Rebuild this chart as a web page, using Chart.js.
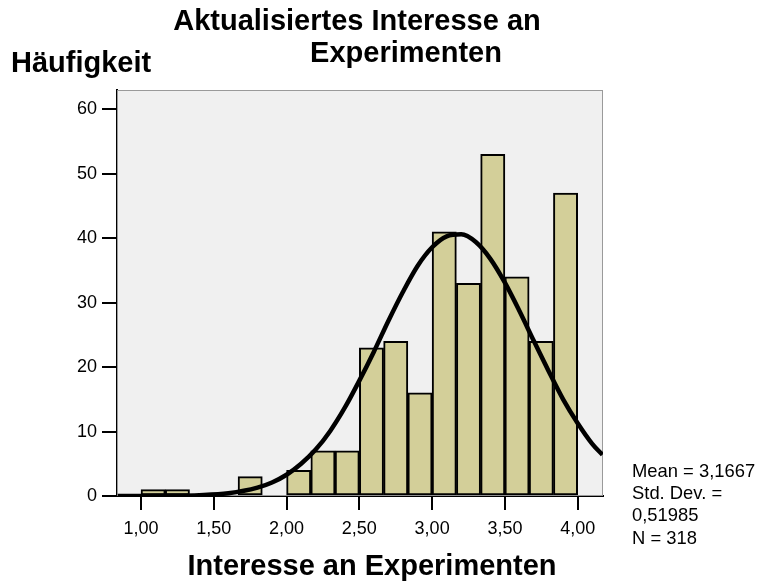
<!DOCTYPE html>
<html>
<head>
<meta charset="utf-8">
<script src="https://cdn.jsdelivr.net/npm/chart.js@4"></script>
<style>
  body { margin: 0; background: #fff; }
  #wrap { width: 758px; height: 584px; }
</style>
</head>
<body>
<div id="wrap"><canvas id="myChart"></canvas></div>
<script>
// histogram bins (centres of the 1/6 wide classes) and frequencies
var binCenters = [1.0833, 1.25, 1.4167, 1.5833, 1.75, 1.9167, 2.0833, 2.25, 2.4167,
                  2.5833, 2.75, 2.9167, 3.0833, 3.25, 3.4167, 3.5833, 3.75, 3.9167];
var counts = [1, 1, 0, 0, 3, 0, 4, 7, 7, 23, 24, 16, 41, 33, 53, 34, 24, 47];

// normal curve
var curveX = [0.84, 1.0, 1.2, 1.4, 1.6, 1.8, 1.9, 2.0, 2.1, 2.2, 2.3, 2.4, 2.5, 2.6, 2.7,
              2.8, 2.9, 3.0, 3.1, 3.2, 3.3, 3.4, 3.5, 3.6, 3.7, 3.8, 3.9, 4.0, 4.1, 4.17];
var curveY = [0, 0, 0.03, 0.13, 0.43, 1.3, 2.1, 3.3, 5.0, 7.2, 10.1, 13.7, 17.9, 22.4, 27.2,
              31.7, 35.7, 38.6, 40.3, 40.6, 39.4, 36.8, 33.1, 28.7, 24.0, 19.4, 15.0, 11.3, 8.1, 6.4];

var xTicks = [1.0, 1.5, 2.0, 2.5, 3.0, 3.5, 4.0];
var yTicks = [0, 10, 20, 30, 40, 50, 60];

var statsLines = ["Mean = 3,1667", "Std. Dev. =", "0,51985", "N = 318"];

var FONT = "'Liberation Sans', Arial, sans-serif";

var barData = binCenters.map(function(c, i) {
  return { x: c, y: counts[i] === 0 ? null : counts[i] };
});
var lineData = curveX.map(function(x, i) { return { x: x, y: curveY[i] }; });

var plotFrame = {
  id: 'plotFrame',
  beforeDatasetsDraw: function(chart) {
    var a = chart.chartArea, ctx = chart.ctx;
    ctx.save();
    ctx.fillStyle = '#f0f0f0';
    ctx.fillRect(a.left, a.top, a.right - a.left, a.bottom - a.top);
    ctx.strokeStyle = '#9a9a9a';
    ctx.lineWidth = 1;
    ctx.strokeRect(a.left + 0.5, a.top + 0.5, a.right - a.left - 1, a.bottom - a.top - 1);
    ctx.restore();
  },
  afterDraw: function(chart) {
    var ctx = chart.ctx;
    ctx.save();
    ctx.fillStyle = '#000';
    ctx.textBaseline = 'alphabetic';
    ctx.font = 'bold 29px ' + FONT;
    ctx.textAlign = 'center';
    ctx.fillText('Aktualisiertes Interesse an', 357, 30);
    ctx.fillText('Experimenten', 406, 62);
    ctx.fillText('Interesse an Experimenten', 372, 575);
    ctx.textAlign = 'left';
    ctx.fillText('Häufigkeit', 11, 72);
    ctx.font = '18.4px ' + FONT;
    statsLines.forEach(function(t, i) {
      ctx.fillText(t, 632, 477 + i * 22.2);
    });
    ctx.restore();
  }
};

new Chart("myChart", {
  type: 'bar',
  data: {
    datasets: [{
      type: 'line',
      data: lineData,
      borderColor: '#000',
      borderWidth: 4.5,
      pointRadius: 0,
      fill: false,
      cubicInterpolationMode: 'monotone',
      order: 0
    }, {
      type: 'bar',
      data: barData,
      backgroundColor: '#d3cf99',
      borderColor: '#000',
      borderWidth: 2,
      borderSkipped: false,
      barPercentage: 1,
      categoryPercentage: 1,
      order: 1
    }]
  },
  plugins: [plotFrame],
  options: {
    responsive: true,
    maintainAspectRatio: false,
    animation: false,
    layout: { padding: { top: 90, right: 155, left: 0, bottom: 0 } },
    plugins: {
      legend: { display: false },
      tooltip: { enabled: false },
      title: { display: false }
    },
    scales: {
      x: {
        type: 'linear',
        min: 0.835,
        max: 4.174,
        offset: false,
        afterBuildTicks: function(s) { s.ticks = xTicks.map(function(v) { return { value: v }; }); },
        afterFit: function(s) { s.height = 88; },
        grid: { drawOnChartArea: false, drawTicks: true, tickLength: 14, color: '#000', lineWidth: 2, offset: false },
        border: { display: true, color: '#000', width: 2 },
        ticks: {
          color: '#000',
          padding: 8,
          maxRotation: 0,
          autoSkip: false,
          font: { family: FONT, size: 18 },
          callback: function(v) { return v.toFixed(2).replace('.', ','); }
        }
      },
      y: {
        min: 0,
        max: 63,
        afterBuildTicks: function(s) { s.ticks = yTicks.map(function(v) { return { value: v }; }); },
        afterFit: function(s) { s.width = 117; },
        grid: { drawOnChartArea: false, drawTicks: true, tickLength: 15, color: '#000', lineWidth: 2 },
        border: { display: true, color: '#000', width: 2 },
        ticks: {
          color: '#000',
          padding: 5,
          font: { family: FONT, size: 18 }
        }
      }
    }
  }
});
</script>
</body>
</html>
